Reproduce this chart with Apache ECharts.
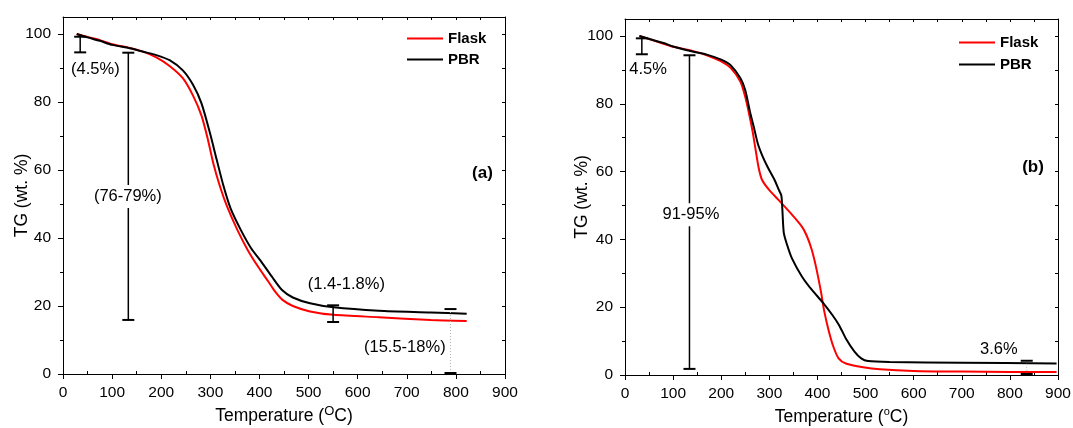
<!DOCTYPE html>
<html>
<head>
<meta charset="utf-8">
<script src="https://cdn.jsdelivr.net/npm/echarts@6/dist/echarts.min.js"></script>
<style>
html,body{margin:0;padding:0;background:#fff;}
#chart{width:1073px;height:428px;}
</style>
</head>
<body>
<div id="chart"></div>
<script>
// ---------- DATA ----------
const xTicks = [0,100,200,300,400,500,600,700,800,900];
const yTicks = [0,20,40,60,80,100];
const seriesNames = ['Flask','PBR'];

// Panel (a)
const aFlaskT  = [28,50,75,100,136,163,190,217,244,265,282,295,306,320,334,355,376,397,418,432,447,468,503,551,643,749,822];
const aFlaskTG = [100,99.1,98.2,97,95.9,94.8,93.1,90.6,87,81.8,76,69,62,55,49.3,42.4,36.5,31.6,27.2,24.2,21.8,20,18.4,17.4,16.7,15.9,15.6];
const aPbrT    = [28,50,75,100,136,163,190,217,244,265,282,299,313,327,341,362,383,404,425,446,468,503,551,643,749,822];
const aPbrTG   = [100,99,98,96.8,95.8,94.8,93.8,92.3,89.3,85,79.6,71,63,55.2,48.8,42.4,37,33,28.7,24.7,22.5,20.8,19.6,18.6,18.1,17.7];

// Panel (b)
const bFlaskT  = [30,80,100,140,170,200,220,240,250,258,265,272,278,285,300,318,347,368,378,388,397,407,414,423,433,444,459,495,530,600,700,800,897];
const bFlaskTG = [100,97.7,96.8,95.6,94.3,92.5,90.5,86.5,82,77,72,66,61,57.5,54.5,51.8,47.3,43.7,41,37,31.9,24.8,18.9,13.3,8.4,4.9,3.4,2.3,1.7,1.2,1,0.9,0.9];
const bPbrT    = [30,80,100,140,170,200,220,240,250,260,268,276,286,297,310,320,325,327,330,336,347,368,389,410,431,445,459,477,491,505,550,700,897];
const bPbrTG   = [100,97.9,96.9,95.4,94.5,93,91.3,87.5,84,77.5,73,68.3,64.5,61.2,57.8,54.5,52.9,49,42,38.8,34.4,29,25,21.6,17.7,14.7,10.8,6.9,4.9,4.1,3.8,3.6,3.4];

// Annotations (a)
const aBarT = [35,133,550], aBarLo = [94.6,15.9,15.3], aBarHi = [99.2,94.5,20.2];
const aDotT = [789], aDotLo = [0.3], aDotHi = [19.1];
const aNoteText = ['(4.5%)','(76-79%)','(1.4-1.8%)','(15.5-18%)'];
const aNoteT  = [66,132,577,696];
const aNoteTG = [89.6,52.2,26.2,7.9];
const aPanelText = ['(a)'], aPanelT = [854], aPanelTG = [59.1];

// Annotations (b)
const bBarT = [35,134], bBarLo = [94.6,1.8], bBarHi = [99.3,94.3];
const bDotT = [835], bDotLo = [0.3], bDotHi = [4.2];
const bNoteText = ['4.5%','91-95%','3.6%'];
const bNoteT  = [48,137,777];
const bNoteTG = [90.2,47.3,7.4];
const bPanelText = ['(b)'], bPanelT = [848], bPanelTG = [61.4];

// ---------- BUILD ----------
const FONT = "'Liberation Sans', Arial, sans-serif";
const zip = (a,b) => a.map((v,i)=>[v,b[i]]);
const minorX = xTicks.slice(0,-1).map((v,i)=>(v + xTicks[i+1])/2);
const minorY = yTicks.slice(0,-1).map((v,i)=>(v + yTicks[i+1])/2);

function axesFor(gi, sup){
  const xs = [
    { gridIndex: gi, type:'value', min:0, max:900, position:'bottom',
      axisLine:{show:true, onZero:false, lineStyle:{color:'#000', width:1}},
      axisTick:{show:true, inside:false, length:5, customValues: xTicks, lineStyle:{color:'#000'}},
      axisLabel:{show:true, customValues: xTicks, margin:11, color:'#000', fontSize:15.5, fontFamily:FONT},
      splitLine:{show:false},
      name: sup === 'O' ? 'Temperature ({sup|O}C)' : 'Temperature ({sup|o}C)',
      nameLocation:'middle', nameGap:31, nameMoveOverlap:false,
      nameTextStyle:{color:'#000', fontSize:17.5, fontFamily:FONT, lineHeight:22,
        rich:{sup:{fontSize: sup==='O'?13:11, fontFamily:FONT, color:'#000', verticalAlign:'top', lineHeight: sup==='O'?13:11}}}
    },
    { gridIndex: gi, type:'value', min:0, max:900, position:'bottom',
      axisLine:{show:false}, axisLabel:{show:false}, splitLine:{show:false},
      axisTick:{show:true, inside:true, length:3, customValues:minorX, lineStyle:{color:'#000'}}
    },
    { gridIndex: gi, type:'value', min:0, max:900, position:'top',
      axisLine:{show:true, onZero:false, lineStyle:{color:'#000', width:1}}, axisLabel:{show:false}, splitLine:{show:false},
      axisTick:{show:true, inside:true, length:3, customValues: xTicks.concat(minorX), lineStyle:{color:'#000'}}
    }
  ];
  const ys = [
    { gridIndex: gi, type:'value', min:0, max:105, position:'left',
      axisLine:{show:true, onZero:false, lineStyle:{color:'#000', width:1}},
      axisTick:{show:true, inside:false, length:5, customValues: yTicks, lineStyle:{color:'#000'}},
      axisLabel:{show:true, customValues: yTicks, margin:12, color:'#000', fontSize:15.5, fontFamily:FONT},
      splitLine:{show:false},
      name:'TG (wt. %)', nameLocation:'middle', nameGap: gi===0 ? 32 : 34, nameRotate:90, nameMoveOverlap:false,
      nameTextStyle:{color:'#000', fontSize:17.5, fontFamily:FONT}
    },
    { gridIndex: gi, type:'value', min:0, max:105, position:'left',
      axisLine:{show:false}, axisLabel:{show:false}, splitLine:{show:false},
      axisTick:{show:true, inside:false, length:3, customValues:minorY, lineStyle:{color:'#000'}}
    },
    { gridIndex: gi, type:'value', min:0, max:105, position:'right',
      axisLine:{show:true, onZero:false, lineStyle:{color:'#000', width:1}}, axisLabel:{show:false}, splitLine:{show:false},
      axisTick:{show:true, inside:true, length:3, customValues: yTicks.concat(minorY), lineStyle:{color:'#000'}}
    }
  ];
  return {xs, ys};
}

const A = axesFor(0,'O'), B = axesFor(1,'o');

function lineSeries(name, T, TG, xi, yi, color){
  return { type:'line', name, xAxisIndex:xi, yAxisIndex:yi, data: zip(T,TG),
    symbol:'none', smooth:0.25, z:3,
    lineStyle:{color, width:2}, itemStyle:{color} };
}

function barSeries(T, lo, hi, xi, yi, dotted){
  return { type:'custom', xAxisIndex:xi, yAxisIndex:yi, silent:true, z:4,
    data: T.map((t,i)=>[t, lo[i], hi[i]]),
    encode:{x:0, y:[1,2]},
    renderItem: (p, api) => {
      const x = api.value(0), l = api.value(1), h = api.value(2);
      const pt = api.coord([x,h]), pb = api.coord([x,l]);
      const w = 6;
      return { type:'group', children:[
        { type:'line', shape:{x1:pt[0], y1:pt[1], x2:pb[0], y2:pb[1]},
          style:{stroke: dotted ? '#b0b0b0' : '#000', lineWidth: dotted ? 1 : 1.5, lineDash: dotted ? [1,2] : null} },
        { type:'line', shape:{x1:pt[0]-w, y1:pt[1], x2:pt[0]+w, y2:pt[1]}, style:{stroke:'#000', lineWidth:2} },
        { type:'line', shape:{x1:pb[0]-w, y1:pb[1], x2:pb[0]+w, y2:pb[1]}, style:{stroke:'#000', lineWidth:2} }
      ]};
    }
  };
}

// texts that sit across an error bar get a white box behind them
function textSeries(texts, T, TG, xi, yi, bold, boxedIdx){
  return { type:'custom', xAxisIndex:xi, yAxisIndex:yi, silent:true, z:10,
    data: zip(T,TG), encode:{x:0, y:1},
    renderItem: (p, api) => {
      const c = api.coord([api.value(0), api.value(1)]);
      const boxed = boxedIdx.indexOf(p.dataIndex) >= 0;
      return { type:'text', x:c[0], y:c[1], style:{
        text: texts[p.dataIndex], fill:'#000',
        font: (bold ? 'bold 17px ' : '16.5px ') + FONT,
        align:'center', verticalAlign:'middle',
        backgroundColor: boxed ? '#fff' : null, padding: boxed ? [3,4] : 0 } };
    }
  };
}

const option = {
  backgroundColor:'#fff',
  animation:false,
  grid:[
    {left:63, top:17, width:442, height:357, containLabel:false, outerBoundsMode:'none'},
    {left:625, top:19, width:433, height:356, containLabel:false, outerBoundsMode:'none'}
  ],
  xAxis: A.xs.concat(B.xs),
  yAxis: A.ys.concat(B.ys),
  legend:[
    { data: seriesNames, orient:'vertical', left:402, top:26, itemWidth:36, itemHeight:14, itemGap:6,
      icon:'path://M0,6 L36,6 L36,8 L0,8 Z', selectedMode:false,
      textStyle:{color:'#000', fontSize:15, fontWeight:'bold', fontFamily:FONT} },
    { data: seriesNames, orient:'vertical', left:954, top:30, itemWidth:36, itemHeight:14, itemGap:7,
      icon:'path://M0,6 L36,6 L36,8 L0,8 Z', selectedMode:false,
      textStyle:{color:'#000', fontSize:15, fontWeight:'bold', fontFamily:FONT} }
  ],
  series:[
    lineSeries('Flask', aFlaskT, aFlaskTG, 0, 0, '#ff0000'),
    lineSeries('PBR', aPbrT, aPbrTG, 0, 0, '#000000'),
    lineSeries('Flask', bFlaskT, bFlaskTG, 3, 3, '#ff0000'),
    lineSeries('PBR', bPbrT, bPbrTG, 3, 3, '#000000'),
    barSeries(aBarT, aBarLo, aBarHi, 0, 0, false),
    barSeries(aDotT, aDotLo, aDotHi, 0, 0, true),
    barSeries(bBarT, bBarLo, bBarHi, 3, 3, false),
    barSeries(bDotT, bDotLo, bDotHi, 3, 3, true),
    textSeries(aNoteText, aNoteT, aNoteTG, 0, 0, false, [1,2,3]),
    textSeries(aPanelText, aPanelT, aPanelTG, 0, 0, true, []),
    textSeries(bNoteText, bNoteT, bNoteTG, 3, 3, false, [1]),
    textSeries(bPanelText, bPanelT, bPanelTG, 3, 3, true, [])
  ]
};

const chart = echarts.init(document.getElementById('chart'), null, {renderer:'canvas'});
chart.setOption(option);
</script>
</body>
</html>
